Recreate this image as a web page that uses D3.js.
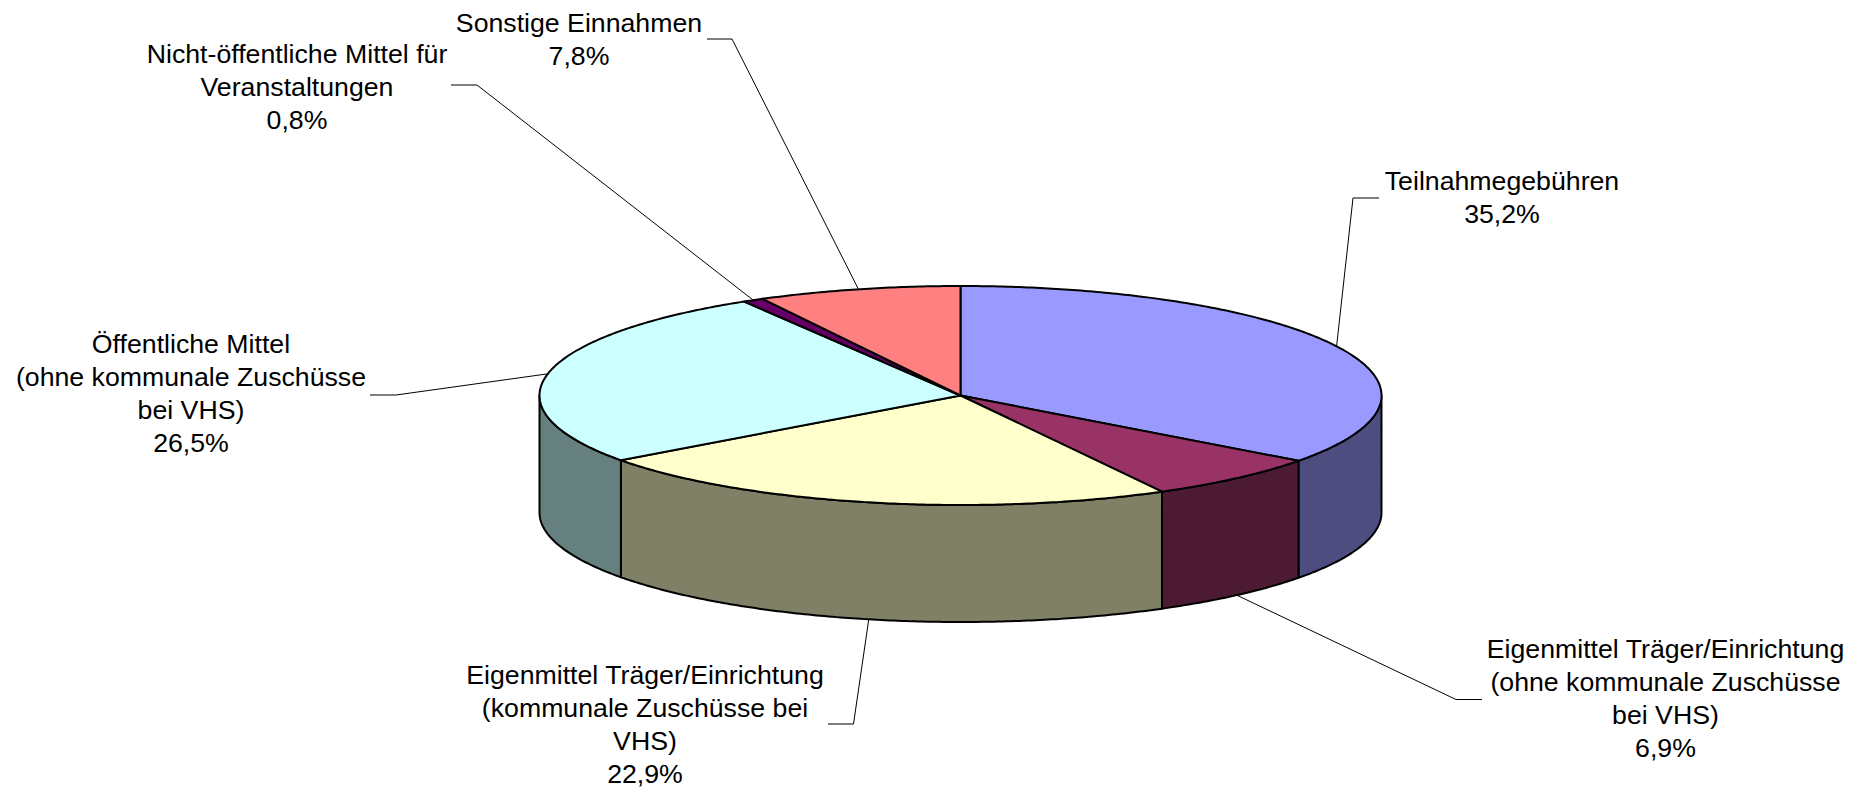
<!DOCTYPE html>
<html><head><meta charset="utf-8">
<script src="https://cdn.jsdelivr.net/npm/d3@7"></script>
<style>html,body{margin:0;padding:0;background:#fff}svg{display:block}
text{font-family:"Liberation Sans",Arial,sans-serif;font-size:26.7px;fill:#000}</style></head><body>
<svg id="c" width="1861" height="789"></svg>
<script>
const categories=[["Teilnahmegebühren"],["Eigenmittel Träger/Einrichtung","(ohne kommunale Zuschüsse","bei VHS)"],["Eigenmittel Träger/Einrichtung","(kommunale Zuschüsse bei","VHS)"],["Öffentliche Mittel","(ohne kommunale Zuschüsse","bei VHS)"],["Nicht-öffentliche Mittel für","Veranstaltungen"],["Sonstige Einnahmen"]];
const values=[35.2,6.9,22.9,26.5,0.8,7.8];
const topColors=["#9999FF","#993366","#FFFFCC","#CCFFFF","#660066","#FF8080"];
const sideColors=["#4D4D80","#4D1A33","#808066","#668080","#330033","#804040"];
// label layout: text centre x, first baseline y, leader elbow and leader end
const labelLayout=[
 {cx:1502,y:190,elbow:[1353,198],end:[1379,198]},
 {cx:1665.5,y:658,elbow:[1456,699.5],end:[1482,699.5]},
 {cx:645,y:684,elbow:[853.5,724],end:[828,724]},
 {cx:191,y:353,elbow:[396,395],end:[370,395]},
 {cx:297,y:63,elbow:[477,85],end:[451,85]},
 {cx:579,y:32,elbow:[732,39],end:[707,39]}
];
const cx=960.5,cy=395.5,rx=421,ry=109.5,depth=117,lineH=33;
const svg=d3.select("#c");
const pieGen=d3.pie().sort(null).value(d=>d);
const arcs=pieGen(values);
const px=a=>cx+rx*Math.sin(a), py=(a,dy=0)=>cy-ry*Math.cos(a)+dy;
const line=d3.line();
const samples=(a0,a1)=>{const n=Math.max(2,Math.ceil(Math.abs(a1-a0)/0.01));return d3.range(n+1).map(i=>a0+(a1-a0)*i/n);};
const PI=Math.PI;
// side walls (visible front half a in [PI/2, 3PI/2])
arcs.forEach((d,i)=>{
  const a0=Math.max(d.startAngle,PI/2),a1=Math.min(d.endAngle,1.5*PI);
  if(a1<=a0)return;
  const s=samples(a0,a1);
  const pts=s.map(a=>[px(a),py(a)]).concat(s.slice().reverse().map(a=>[px(a),py(a,depth)]));
  svg.append("path").attr("d",line(pts)+"Z").attr("fill",sideColors[i]).attr("stroke","#000").attr("stroke-width",2).attr("stroke-linejoin","round");
});
// top slices
arcs.forEach((d,i)=>{
  const pts=[[cx,cy]].concat(samples(d.startAngle,d.endAngle).map(a=>[px(a),py(a)]));
  svg.append("path").attr("d",line(pts)+"Z").attr("fill",topColors[i]).attr("stroke","#000").attr("stroke-width",2).attr("stroke-linejoin","round");
});
// leaders and labels
arcs.forEach((d,i)=>{
  const m=(d.startAngle+d.endAngle)/2,front=Math.cos(m)<0&&i<3;
  const L=labelLayout[i];
  const p=[px(m),py(m,front?depth:0)];
  svg.append("path").attr("d",line([p,L.elbow,L.end])).attr("fill","none").attr("stroke","#000").attr("stroke-width",1);
  const t=svg.append("text").attr("text-anchor","middle");
  categories[i].concat([d3.format(".1f")(values[i]).replace(".",",")+"%"]).forEach((s,j)=>{
    t.append("tspan").attr("x",L.cx).attr("y",L.y+j*lineH).text(s);
  });
});
</script></body></html>
